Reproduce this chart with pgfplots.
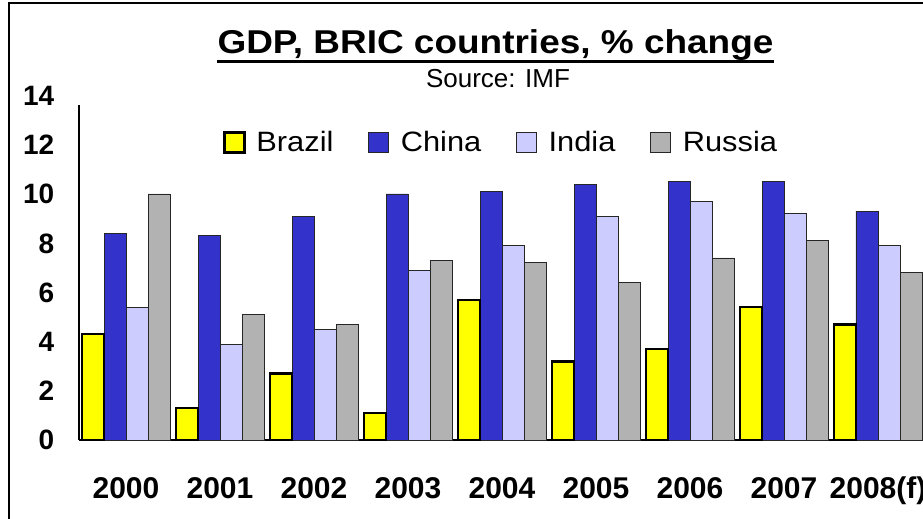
\documentclass[border=0pt]{standalone}
\usepackage{pgfplots}
\pgfplotsset{compat=1.18}
\usepackage{fontspec}
\setmainfont{Liberation Sans}
\newfontfamily\legendfont[FakeStretch=1.1]{Liberation Sans}
\usepackage{graphicx}

\definecolor{brazil}{HTML}{FFFF00}
\definecolor{china}{HTML}{3333CC}
\definecolor{india}{HTML}{CCCCFF}
\definecolor{russia}{HTML}{B2B2B2}

% Real GDP growth, % change (x = year index, 0 = 2000 ... 8 = 2008 forecast)
\pgfplotstableread{
x y
0 4.3
1 1.3
2 2.7
3 1.1
4 5.7
5 3.2
6 3.7
7 5.4
8 4.7
}\brazildata
\pgfplotstableread{
x y
0 8.4
1 8.3
2 9.1
3 10.0
4 10.1
5 10.4
6 10.5
7 10.5
8 9.3
}\chinadata
\pgfplotstableread{
x y
0 5.4
1 3.9
2 4.5
3 6.9
4 7.9
5 9.1
6 9.7
7 9.2
8 7.9
}\indiadata
\pgfplotstableread{
x y
0 10.0
1 5.1
2 4.7
3 7.3
4 7.2
5 6.4
6 7.4
7 8.1
8 6.8
}\russiadata

\pgfplotsset{
  box legend/.style={legend image code/.code={%
    \draw[##1] (0bp,-10bp) rectangle (20bp,10bp);
    \path[draw=none, fill=none] (20bp,0bp) -- (30bp,0bp);}},
}

\begin{document}
\begin{tikzpicture}
\useasboundingbox (0,0) rectangle (923bp,519bp);
\clip (0,0) rectangle (923bp,519bp);
\fill[white] (0,0) rectangle (923bp,519bp);
% chart frame
\draw[line width=1.5bp] (9bp,-20bp) -- (9bp,516bp) -- (960bp,516bp);

% titles
\node[anchor=base, inner sep=0pt, font=\bfseries\fontsize{33bp}{36bp}\selectfont]
  (title) at (495.5bp,465bp) {\scalebox{1.12}[1]{GDP, BRIC countries, \% change}};
\draw[line width=3.5bp] ([yshift=-7.3bp]title.base west) -- ([yshift=-7.3bp]title.base east);
\node[anchor=base, inner sep=0pt, font=\fontsize{26bp}{28bp}\selectfont]
  at (498bp,431bp) {Source: IMF};

\begin{axis}[
  at={(79bp,79bp)}, anchor=south west,
  scale only axis, width=846bp, height=334.6bp,
  xmin=-0.5, xmax=8.5, ymin=0, ymax=13.6,
  clip=false,
  axis x line*=bottom, axis y line*=left,
  axis line style={line width=1.2bp},
  major tick length=0pt,
  xtick={0,...,8},
  xticklabels={2000,2001,2002,2003,2004,2005,2006,2007,2008(f)},
  ytick={0,2,...,12},
  /pgf/number format/assume math mode=true,
  xticklabel style={font=\bfseries\fontsize{30bp}{32bp}\selectfont,
    anchor=base, inner sep=0pt, yshift=-58bp},
  yticklabel style={font=\bfseries\fontsize{28bp}{30bp}\selectfont,
    anchor=base east, inner sep=0pt, xshift=-24.5bp, yshift=-10bp},
  legend style={at={(0.1702,0.889)}, anchor=west, draw=none, fill=none,
    inner sep=0pt, legend columns=4,
    font=\legendfont\fontsize{28bp}{30bp}\selectfont,
    /tikz/every even column/.append style={column sep=33bp}},
]
\addlegendimage{box legend, fill=brazil, draw=black, line width=2.5bp}
\addlegendimage{box legend, fill=china, draw=black!85, line width=0.8bp}
\addlegendimage{box legend, fill=india, draw=black!85, line width=0.8bp}
\addlegendimage{box legend, fill=russia, draw=black!85, line width=0.8bp}
\legend{Brazil,China,India,Russia}

\addplot[forget plot, ybar, bar width=22bp, bar shift=-11bp, fill=china, draw=black!85, line width=0.8bp]
  table[x=x, y=y] {\chinadata};
\addplot[forget plot, ybar, bar width=22bp, bar shift=11bp, fill=india, draw=black!85, line width=0.8bp]
  table[x=x, y=y] {\indiadata};
\addplot[forget plot, ybar, bar width=22bp, bar shift=33bp, fill=russia, draw=black!85, line width=0.8bp]
  table[x=x, y=y] {\russiadata};
\addplot[forget plot, ybar, bar width=22bp, bar shift=-33bp, fill=brazil, draw=black, line width=2.5bp]
  table[x=x, y=y] {\brazildata};

\node[anchor=base east, inner sep=0pt, xshift=-24.5bp, yshift=-10bp,
  font=\bfseries\fontsize{28bp}{30bp}\selectfont] at (axis cs:-0.5,14) {14};
\end{axis}
\end{tikzpicture}
\end{document}
